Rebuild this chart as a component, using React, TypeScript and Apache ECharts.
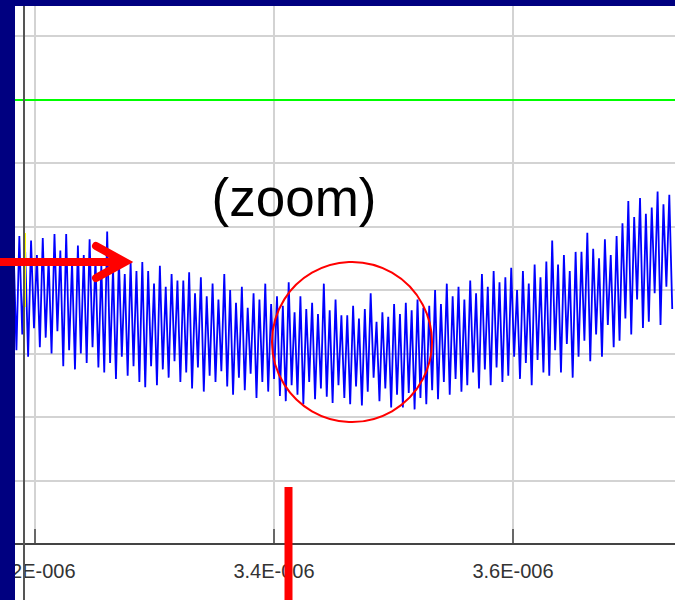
import React, { useEffect, useRef } from "react";
import * as echarts from "echarts";

// x axis in nanoseconds; labels shown as e.g. 3.4E-006 (seconds)
const xTicksMin = 3000;
const xTicksMax = 3800;
const xTickStep = 200;

// y axis in arbitrary grid units (no labels visible)
const yMin = 0;
const yMax = 9;
const greenLevel = 7;

const sampleStart = 3182; // ns
const samplePeriod = 2.45; // ns
const signal = [
  4.70, 3.05, 4.85, 3.30, 4.60, 2.95, 4.78, 3.40, 4.55, 3.10, 4.82, 3.25, 4.50, 3.00, 4.88, 3.35,
  4.62, 2.80, 4.88, 3.05, 4.45, 2.75, 4.70, 3.00, 4.55, 2.85, 4.80, 3.10, 4.50, 2.78,
  4.40, 2.70, 4.92, 2.85, 4.35, 2.60, 4.50, 2.95, 4.25, 2.65, 4.45, 2.80, 4.30, 2.55,
  4.44, 2.47, 4.30, 2.80, 4.10, 2.50, 4.38, 2.75, 4.05, 2.62, 4.25, 2.88, 4.15, 2.55,
  4.15, 2.70, 4.28, 2.45, 3.95, 2.78, 4.20, 2.40, 3.90, 2.65, 4.10, 2.55, 3.85, 2.72, 4.25, 2.48, 4.00,
  2.35, 3.80, 2.62, 4.05, 2.42, 3.72, 2.68, 3.95, 2.30, 3.85, 2.55, 4.10, 2.40, 3.78, 2.60, 3.90, 2.33,
  3.75, 2.25, 4.12, 2.50, 3.65, 2.35, 3.90, 2.20, 3.70, 2.55, 3.80, 2.28, 3.62, 2.45, 4.10, 2.32, 3.68, 2.22, 3.85, 2.50, 3.60, 2.30,
  3.60, 2.20, 3.75, 2.48, 3.55, 2.18, 3.70, 2.40, 3.95, 2.62, 3.50, 2.25, 3.65, 2.45, 3.58, 2.15, 3.78, 2.35, 3.62,
  2.15, 3.80, 2.38, 3.68, 2.12, 3.85, 2.30, 3.72, 2.20, 3.75,
  2.42, 4.00, 2.28, 3.78, 2.55, 4.10, 2.35, 3.90, 2.60, 4.05, 2.40, 3.85, 2.50,
  4.15, 2.70, 3.95, 2.45, 4.25, 2.75, 4.05, 2.50, 4.30, 2.78, 4.12, 2.55, 4.20, 2.65,
  4.35, 2.95, 4.00, 2.60, 4.30, 2.85, 4.10, 2.50, 4.40, 2.90, 4.20, 2.70,
  4.45, 2.65, 4.78, 3.05, 4.40, 2.70, 4.55, 3.15, 4.30, 2.62, 4.60, 2.95,
  4.60, 3.20, 4.90, 2.88, 4.65, 3.30, 4.50, 2.95, 4.80, 3.45, 4.55, 3.10, 4.85,
  3.20, 5.05, 3.55, 5.40, 3.30, 5.15, 3.85, 5.45, 3.40, 5.20,
  3.50, 5.30, 3.95, 5.55, 3.45, 5.35, 4.05, 5.50, 3.70,
];

const annotationText = "(zoom)";

export default function App() {
  const ref = useRef<HTMLDivElement>(null);

  useEffect(() => {
    if (!ref.current) return;
    const chart = echarts.init(ref.current, null, { renderer: "svg" });
    const data = signal.map((v, i) => [sampleStart + i * samplePeriod, v]);
    const gridColor = "#d3d3d3";
    chart.setOption({
      animation: false,
      backgroundColor: "#ffffff",
      grid: {
        left: -204,
        top: -27.5,
        width: 956,
        height: 571.5,
        containLabel: false,
        outerBoundsMode: "none",
      },
      xAxis: {
        type: "value",
        min: xTicksMin,
        max: xTicksMax,
        interval: xTickStep,
        offset: 5,
        axisLine: { show: true, lineStyle: { color: "#444", width: 2 } },
        axisTick: { show: true, inside: true, length: 15, lineStyle: { color: "#444", width: 1.5 } },
        axisLabel: {
          show: true,
          margin: 12,
          fontSize: 20,
          color: "#333",
          fontFamily: "Liberation Sans, Arial, sans-serif",
          formatter: (v: number) => (v / 1000).toFixed(1) + "E-006",
        },
        splitLine: { show: true, lineStyle: { color: gridColor, width: 2 } },
      },
      yAxis: {
        type: "value",
        min: yMin,
        max: yMax,
        interval: 1,
        axisLine: { show: false },
        axisTick: { show: false },
        axisLabel: { show: false },
        splitLine: { show: true, lineStyle: { color: gridColor, width: 2 } },
      },
      series: [
        {
          type: "line",
          data,
          showSymbol: false,
          symbol: "none",
          lineStyle: { color: "#0000ff", width: 1.8 },
          z: 3,
          markLine: {
            silent: true,
            symbol: "none",
            label: { show: false },
            lineStyle: { color: "#00ff00", width: 2, type: "solid" },
            data: [{ yAxis: greenLevel }],
          },
        },
      ],
      graphic: [
        { type: "line", z: 100, shape: { x1: 24, y1: 6, x2: 24, y2: 600 }, style: { stroke: "#555", lineWidth: 2 } },
        { type: "line", z: 101, shape: { x1: 25.5, y1: 233, x2: 25.5, y2: 307 }, style: { stroke: "#ffff00", lineWidth: 1 } },
        { type: "rect", z: 110, shape: { x: 0, y: 0, width: 15, height: 600 }, style: { fill: "#000080" } },
        { type: "rect", z: 110, shape: { x: 0, y: 0, width: 675, height: 6 }, style: { fill: "#000080" } },
        { type: "line", z: 120, shape: { x1: 0, y1: 262, x2: 120, y2: 262 }, style: { stroke: "#ff0000", lineWidth: 8 } },
        {
          type: "polyline",
          z: 120,
          shape: { points: [[96, 246], [125, 262], [96, 278]] },
          style: { stroke: "#ff0000", lineWidth: 8, lineCap: "round", lineJoin: "miter", fill: "none" },
        },
        { type: "circle", z: 120, shape: { cx: 352, cy: 342, r: 80 }, style: { stroke: "#ff0000", lineWidth: 2, fill: "none" } },
        { type: "line", z: 120, shape: { x1: 288.5, y1: 487, x2: 288.5, y2: 600 }, style: { stroke: "#ff0000", lineWidth: 8 } },
        {
          type: "text",
          z: 120,
          x: 294,
          y: 197,
          style: {
            text: annotationText,
            fill: "#000",
            fontSize: 53,
            fontFamily: "Liberation Sans, Arial, sans-serif",
            textAlign: "center",
            textVerticalAlign: "middle",
          },
        },
      ],
    });
    return () => chart.dispose();
  }, []);

  return (
    <div
      ref={ref}
      style={{ position: "fixed", left: 0, top: 0, width: 675, height: 600, background: "#fff" }}
    />
  );
}
